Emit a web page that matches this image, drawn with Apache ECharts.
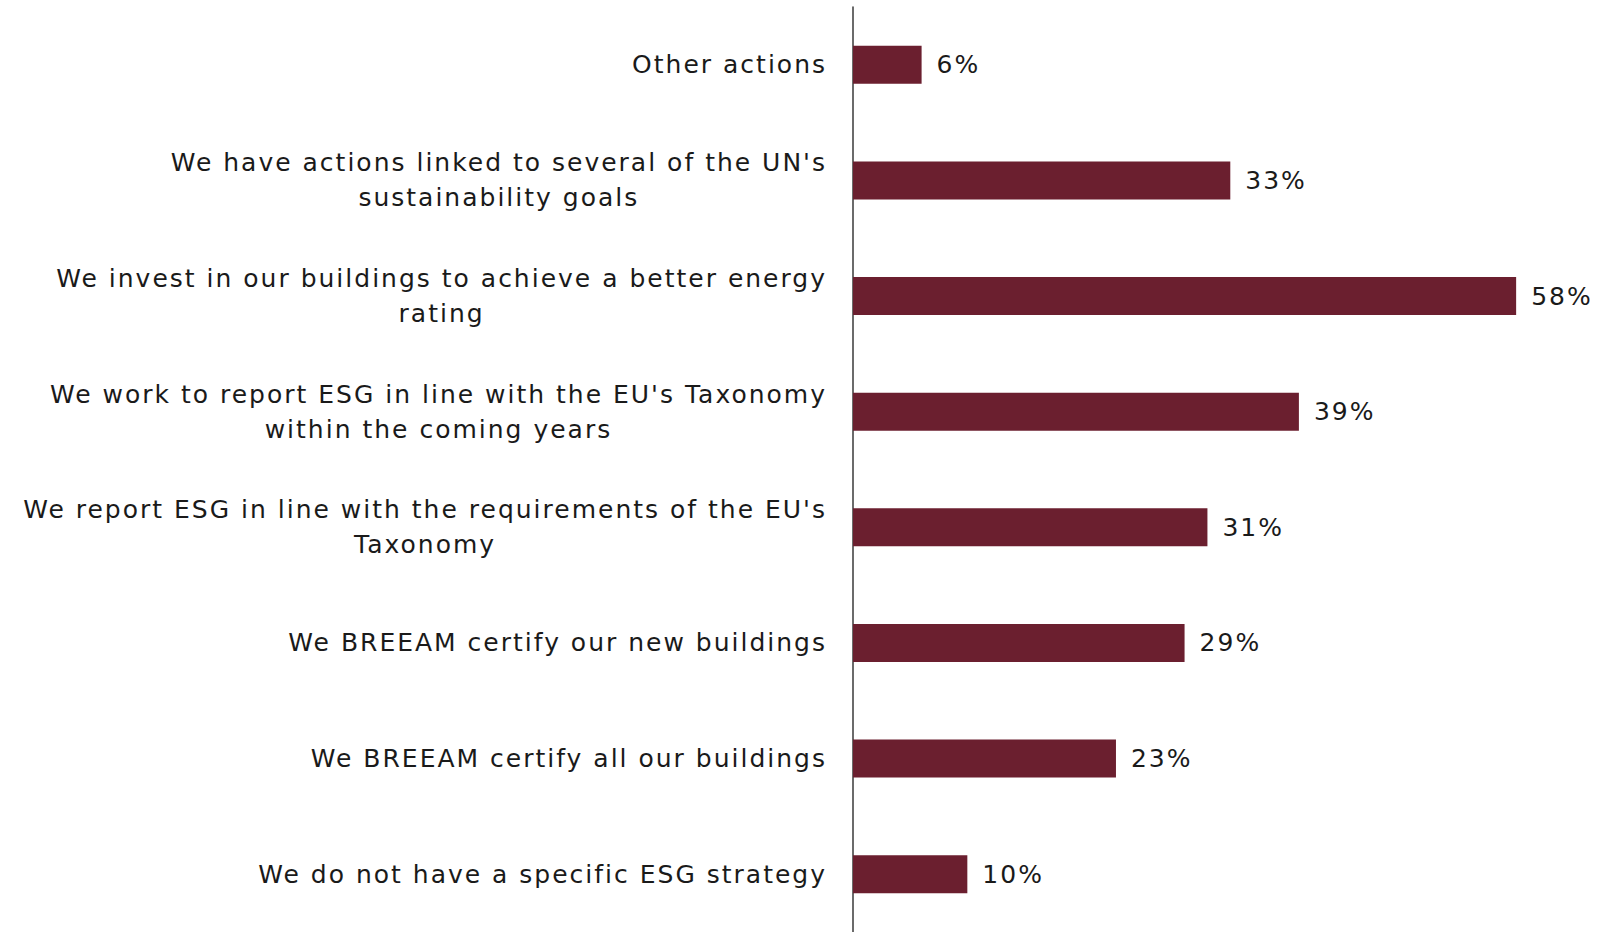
<!DOCTYPE html>
<html>
<head>
<meta charset="utf-8">
<script src="https://cdn.jsdelivr.net/npm/echarts@6/dist/echarts.min.js"></script>
<style>
  html, body { margin: 0; padding: 0; background: #ffffff; }
  #chart { width: 1597px; height: 932px; }
  /* open tracking on all chart text */
  #chart svg text { letter-spacing: 2px; }
</style>
</head>
<body>
<div id="chart"></div>
<script>
// ESG actions reported by respondents (share of respondents, %)
const categories = [
  "Other actions",
  "We have actions linked to several of the UN's\nsustainability goals",
  "We invest in our buildings to achieve a better energy\nrating",
  "We work to report ESG in line with the EU's Taxonomy\nwithin the coming years",
  "We report ESG in line with the requirements of the EU's\nTaxonomy",
  "We BREEAM certify our new buildings",
  "We BREEAM certify all our buildings",
  "We do not have a specific ESG strategy"
];
const shares = [6, 33, 58, 39, 31, 29, 23, 10];

const FONT = "'DejaVu Sans', 'Noto Sans', sans-serif";

// text measurement that accounts for the same tracking the CSS applies
const measureCtx = document.createElement('canvas').getContext('2d');
echarts.setPlatformAPI({
  measureText: function (text, font) {
    measureCtx.font = font || '12px sans-serif';
    measureCtx.letterSpacing = '2px';
    return measureCtx.measureText(text);
  }
});

const chart = echarts.init(document.getElementById('chart'), null, { renderer: 'svg' });
chart.setOption({
  animation: false,
  backgroundColor: '#ffffff',
  grid: { left: 853, right: 58, top: 7, bottom: -4, containLabel: false },
  xAxis: {
    type: 'value',
    min: 0,
    max: 60,
    show: false
  },
  yAxis: {
    type: 'category',
    data: categories,
    inverse: true,
    axisLine: { show: true, lineStyle: { color: '#3a3a3a', width: 1.5 } },
    axisTick: { show: false },
    axisLabel: {
      margin: 26,
      align: 'right',
      // wrapped lines are centred under each other, block right-aligned to the axis gap
      formatter: function (v) {
        return v.split('\n').map(function (l) { return '{c|' + l + '}'; }).join('\n');
      },
      rich: {
        c: {
          align: 'center',
          color: '#1a1a1a',
          fontFamily: FONT,
          fontSize: 25,
          lineHeight: 35
        }
      }
    }
  },
  series: [{
    type: 'bar',
    data: shares,
    barWidth: 38,
    itemStyle: { color: '#6b1f2f' },
    label: {
      show: true,
      position: 'right',
      distance: 15,
      formatter: '{c}%',
      color: '#1a1a1a',
      fontFamily: FONT,
      fontSize: 25
    }
  }]
});
</script>
</body>
</html>
